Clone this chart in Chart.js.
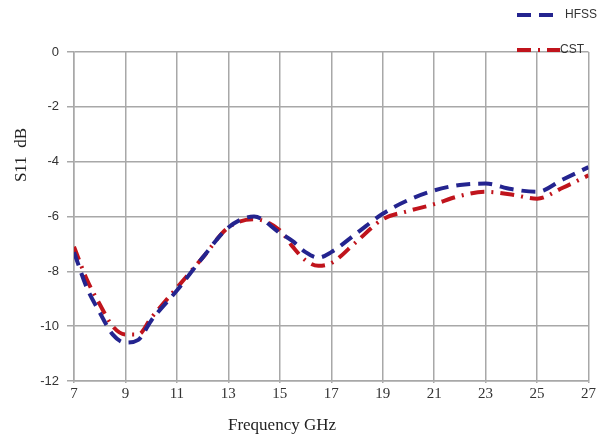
<!DOCTYPE html>
<html>
<head>
<meta charset="utf-8">
<script src="https://cdn.jsdelivr.net/npm/chart.js@4/dist/chart.umd.min.js"></script>
<style>
  body { margin: 0; background: #fff; }
  canvas { display: block; }
</style>
</head>
<body>
<canvas id="s11Chart" width="598" height="438"></canvas>
<script>
// frequency points (GHz)
const freqs = [7, 7.5, 8, 8.5, 9, 9.5, 10, 11, 12, 13, 14, 15, 15.5, 16, 16.5, 17, 18, 19, 20, 21, 22, 23, 24, 25, 26, 27];
// S11 in dB
const hfss = [-7.3, -8.6, -9.5, -10.3, -10.6, -10.5, -9.8, -8.7, -7.5, -6.4, -6.0, -6.6, -6.9, -7.3, -7.5, -7.3, -6.6, -5.9, -5.4, -5.05, -4.85, -4.8, -5.0, -5.1, -4.65, -4.2];
const cst  = [-7.1, -8.3, -9.2, -10.0, -10.3, -10.3, -9.7, -8.6, -7.5, -6.4, -6.1, -6.5, -7.1, -7.6, -7.8, -7.7, -6.9, -6.1, -5.8, -5.55, -5.25, -5.1, -5.2, -5.35, -4.95, -4.5];
const xTicks = [7, 9, 11, 13, 15, 17, 19, 21, 23, 25, 27];
const yTicks = [0, -2, -4, -6, -8, -10, -12];

const gridGray = "#a8a8a8";

const extraText = {
    id: "extraText",
    afterDraw(chart) {
        const ctx = chart.ctx;
        ctx.save();
        // axis titles
        ctx.fillStyle = "#222";
        ctx.font = "17px 'Liberation Serif'";
        ctx.textAlign = "center";
        ctx.textBaseline = "middle";
        ctx.fillText("Frequency GHz", 282, 426);
        ctx.translate(22, 155);
        ctx.rotate(-Math.PI / 2);
        ctx.fillText("S11  dB", 0, 0);
        ctx.restore();

        // legend
        const rows = [[0, 15], [1, 50]];
        rows.forEach(([i, y]) => {
            const ds = chart.data.datasets[i];
            ctx.save();
            ctx.strokeStyle = ds.borderColor;
            ctx.lineWidth = ds.borderWidth;
            ctx.setLineDash(ds.borderDash);
            ctx.beginPath();
            ctx.moveTo(517, y);
            ctx.lineTo(560, y);
            ctx.stroke();
            ctx.setLineDash([]);
            ctx.fillStyle = "#333";
            ctx.font = "12px 'Liberation Sans'";
            ctx.textBaseline = "middle";
            ctx.fillText(ds.label, i === 0 ? 565 : 560, y);
            ctx.restore();
        });
    }
};

new Chart(document.getElementById("s11Chart"), {
    type: "line",
    data: {
        datasets: [
            {
                label: "HFSS",
                data: freqs.map((f, i) => ({ x: f, y: hfss[i] })),
                borderColor: "#24248f",
                borderWidth: 4,
                borderDash: [14, 8],
                pointRadius: 0,
                cubicInterpolationMode: "monotone",
                fill: false
            },
            {
                label: "CST",
                data: freqs.map((f, i) => ({ x: f, y: cst[i] })),
                borderColor: "#c0141c",
                borderWidth: 4,
                borderDash: [14, 7, 2, 7],
                pointRadius: 0,
                cubicInterpolationMode: "monotone",
                fill: false
            }
        ]
    },
    options: {
        responsive: false,
        animation: false,
        layout: { padding: { top: 52, right: 4, left: 0, bottom: 0 } },
        plugins: {
            legend: { display: false },
            tooltip: { enabled: false }
        },
        scales: {
            x: {
                type: "linear",
                min: 7,
                max: 27,
                afterBuildTicks: s => { s.ticks = xTicks.map(v => ({ value: v })); },
                afterFit: s => { s.height = 57; },
                grid: { color: gridGray, lineWidth: 1.5, tickLength: 2 },
                border: { color: gridGray, width: 1.5 },
                ticks: {
                    color: "#333",
                    padding: 2,
                    maxRotation: 0,
                    autoSkip: false,
                    font: { family: "Liberation Serif", size: 15 }
                }
            },
            y: {
                min: -12,
                max: 0,
                afterBuildTicks: s => { s.ticks = yTicks.map(v => ({ value: v })); },
                afterFit: s => { s.width = 74; },
                grid: { color: gridGray, lineWidth: 1.5, tickLength: 7 },
                border: { color: gridGray, width: 1.5 },
                ticks: {
                    color: "#333",
                    padding: 8,
                    font: { family: "Liberation Sans", size: 13 }
                }
            }
        }
    },
    plugins: [extraText]
});
</script>
</body>
</html>
